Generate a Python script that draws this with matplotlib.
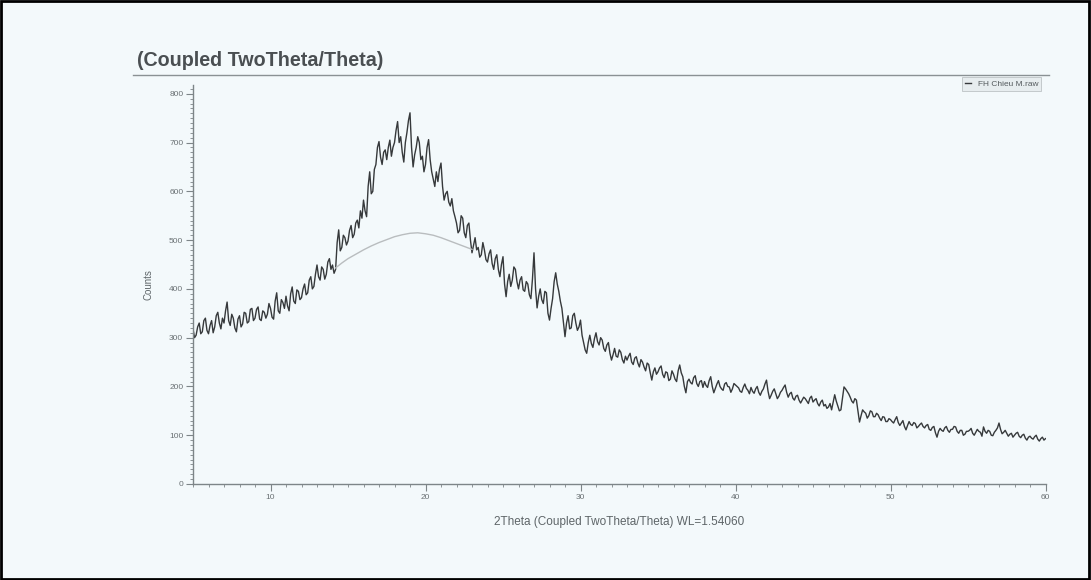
import numpy as np
import matplotlib
matplotlib.use("Agg")
import matplotlib.pyplot as plt
from matplotlib.ticker import MultipleLocator
from matplotlib.lines import Line2D
from matplotlib.patches import Rectangle

plt.rcParams['font.family'] = ['Liberation Sans', 'DejaVu Sans']

two_theta_start = 5.0
two_theta_step = 0.1
counts = [
    318, 300, 305, 322, 330, 308, 312, 335, 340, 315,   # 5
    308, 325, 335, 310, 322, 345, 352, 330, 318, 340,   # 6
    330, 355, 373, 335, 325, 348, 340, 320, 312, 338,   # 7
    345, 322, 328, 352, 350, 330, 333, 358, 360, 335,   # 8
    340, 358, 363, 338, 335, 355, 352, 340, 348, 370,   # 9
    360, 342, 338, 375, 392, 355, 350, 378, 372, 360,   # 10
    385, 365, 355, 390, 404, 375, 370, 398, 395, 378,   # 11
    382, 400, 410, 388, 392, 418, 425, 400, 405, 430,   # 12
    449, 425, 418, 445, 440, 420, 430, 455, 462, 440,   # 13
    449, 432, 440, 495, 521, 478, 485, 510, 505, 490,   # 14
    498, 520, 530, 505, 512, 535, 541, 525, 560, 545,   # 15
    582, 560, 548, 610, 640, 595, 600, 645, 655, 690,   # 16
    702, 670, 655, 680, 685, 665, 690, 705, 672, 690,   # 17
    700, 725, 743, 700, 712, 680, 660, 700, 720, 745,   # 18
    761, 690, 650, 675, 690, 712, 700, 665, 672, 640,   # 19
    655, 690, 706, 665, 640, 625, 610, 640, 620, 645,   # 20
    658, 610, 582, 595, 600, 578, 570, 585, 560, 548,   # 21
    535, 515, 520, 550, 545, 515, 505, 530, 535, 500,   # 22
    474, 490, 505, 480, 485, 465, 470, 495, 480, 460,   # 23
    455, 472, 480, 452, 440, 462, 470, 440, 425, 450,   # 24
    466, 410, 384, 415, 430, 405, 418, 445, 440, 415,   # 25
    400, 418, 425, 398, 395, 415, 410, 388, 380, 420,   # 26
    474, 400, 361, 385, 400, 378, 370, 395, 392, 350,   # 27
    336, 360, 380, 415, 433, 410, 395, 375, 360, 330,   # 28
    302, 330, 345, 318, 320, 345, 350, 330, 315, 322,   # 29
    336, 305, 290, 275, 268, 290, 305, 288, 280, 298,   # 30
    310, 292, 285, 300, 295, 278, 272, 285, 290, 268,   # 31
    254, 265, 278, 262, 260, 275, 270, 255, 248, 262,   # 32
    254, 262, 268, 250, 245, 258, 261, 248, 240, 255,   # 33
    250, 240, 232, 248, 245, 228, 213, 230, 238, 225,   # 34
    230, 238, 242, 225, 218, 230, 228, 212, 215, 232,   # 35
    225, 215, 210, 232, 244, 228, 220, 200, 187, 210,   # 36
    215, 208, 205, 218, 222, 206, 200, 210, 212, 198,   # 37
    210, 202, 198, 212, 220, 200, 187, 196, 205, 212,   # 38
    200, 195, 192, 205, 208, 200, 199, 188, 195, 206,   # 39
    203, 200, 197, 190, 188, 198, 205, 196, 192, 185,   # 40
    198, 190, 186, 195, 200, 188, 182, 190, 195, 205,   # 41
    213, 190, 175, 182, 190, 195, 185, 175, 180, 188,   # 42
    192, 198, 203, 188, 178, 185, 188, 176, 172, 180,   # 43
    182, 172, 166, 172, 178, 175, 170, 165, 176, 180,   # 44
    168, 172, 175, 165, 160, 168, 172, 160, 163, 155,   # 45
    158, 165, 152, 168, 183, 170, 160, 150, 152, 175,   # 46
    199, 195, 190, 185, 178, 170, 166, 175, 172, 150,   # 47
    127, 140, 152, 148, 145, 135, 140, 150, 148, 138,   # 48
    138, 145, 142, 135, 130, 138, 137, 128, 128, 134,   # 49
    132, 128, 125, 132, 138, 126, 120, 125, 130, 118,   # 50
    111, 120, 128, 122, 120, 126, 124, 115, 118, 122,   # 51
    125, 118, 115, 120, 122, 112, 110, 116, 118, 105,   # 52
    96, 108, 114, 110, 108, 115, 118, 110, 106, 112,    # 53
    112, 118, 117, 108, 104, 110, 110, 100, 102, 108,   # 54
    108, 110, 114, 104, 100, 106, 112, 108, 106, 98,    # 55
    117, 108, 104, 110, 108, 100, 99, 106, 110, 115,    # 56
    125, 112, 103, 106, 110, 104, 98, 102, 104, 96,     # 57
    100, 104, 106, 98, 95, 100, 102, 94, 90, 96,        # 58
    98, 94, 92, 97, 100, 92, 88, 93, 96, 90,            # 59
    93,                                                 # 60
]
two_theta = [round(two_theta_start + i * two_theta_step, 2) for i in range(len(counts))]

fit_two_theta = [14.2, 14.6, 15.0, 15.5, 16.0, 16.5, 17.0, 17.5, 18.0, 18.5, 19.0,
                 19.5, 20.0, 20.5, 21.0, 21.5, 22.0, 22.5, 23.0]
fit_counts = [443, 453, 462, 471, 480, 488, 495, 501, 507, 511, 514,
              515, 513, 510, 505, 499, 493, 487, 481]

title = "(Coupled TwoTheta/Theta)"
xlabel = "2Theta (Coupled TwoTheta/Theta) WL=1.54060"
ylabel = "Counts"
legend_label = "FH Chieu M.raw"

# ---- figure ----
W, H = 1091, 580
bg = "#f3f9fb"
fig = plt.figure(figsize=(W / 100, H / 100), dpi=100, facecolor=bg)
ax = fig.add_axes([193 / W, 1 - 484 / H, (1045.5 - 193) / W, (484 - 85) / H])
ax.set_facecolor(bg)

axis_col = "#7d8588"
line, = ax.plot(two_theta, counts, color="#36393b", lw=1.0, label=legend_label)
ax.plot(fit_two_theta, fit_counts, color="#b9bdbf", lw=1.0)

ax.set_xlim(5, 60)
ax.set_ylim(0, 818)

for s in ["top", "right"]:
    ax.spines[s].set_visible(False)
for s in ["left", "bottom"]:
    ax.spines[s].set_color(axis_col)
    ax.spines[s].set_linewidth(1.0)

ax.xaxis.set_major_locator(MultipleLocator(10))
ax.xaxis.set_minor_locator(MultipleLocator(1))
ax.yaxis.set_major_locator(MultipleLocator(100))
ax.yaxis.set_minor_locator(MultipleLocator(10))
ax.tick_params(axis="both", which="major", colors=axis_col, labelcolor="#6a7174",
               labelsize=6, length=5, width=0.8, direction="out", pad=2)
ax.tick_params(axis="both", which="minor", colors=axis_col, length=2.5, width=0.6,
               direction="out")
ax.set_xticks([10, 20, 30, 40, 50, 60])
ax.set_yticks([0, 100, 200, 300, 400, 500, 600, 700, 800])

ax.set_xlabel(xlabel, fontsize=8.5, color="#5e6568", labelpad=11)
ax.set_ylabel(ylabel, fontsize=7, color="#5e6568", labelpad=11)

leg = ax.legend(handles=[line], loc="upper right", bbox_to_anchor=(1.0, 1.03),
                fontsize=6, frameon=True, fancybox=False, handlelength=0.8,
                handletextpad=0.8, borderpad=0.35, labelcolor="#555b5e")
leg.get_frame().set_edgecolor("#b0b6b9")
leg.get_frame().set_facecolor("#e4eaec")
leg.get_frame().set_linewidth(0.6)

# title and rule above plot
fig.text(137 / W, 1 - 60 / H, title, fontsize=14.2, fontweight="bold",
         color="#4a4f52", va="center", ha="left")
fig.add_artist(Line2D([133 / W, 1049 / W], [1 - 75 / H, 1 - 75 / H],
                      transform=fig.transFigure, color="#8a9194", lw=1.0))

# black scan border
fig.add_artist(Rectangle((0.001, 0.002), 0.997, 0.996, transform=fig.transFigure,
                         fill=False, edgecolor="black", lw=2.0))

fig.savefig("out.png", dpi=100, facecolor=bg)
